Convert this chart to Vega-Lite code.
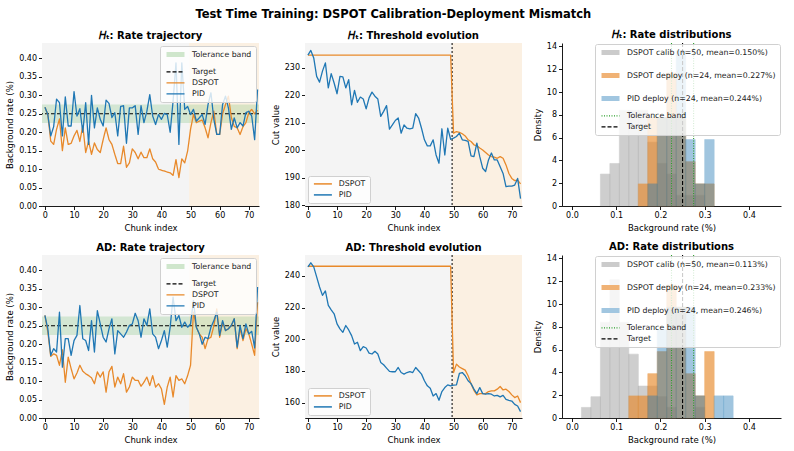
{
"$schema": "https://vega.github.io/schema/vega-lite/v6.json",
"padding": {"left": 5, "top": 8, "right": 5, "bottom": 4},
"title": {"text": "Test Time Training: DSPOT Calibration-Deployment Mismatch", "fontSize": 11.5, "fontWeight": "bold", "anchor": "middle", "offset": 10},
"datasets": {
"phases": [{"phase": "Calibration", "start": -1, "end": 49.5}, {"phase": "Deployment", "start": 49.5, "end": 73.5}],
"phase_labels": [
{"panel": "ht_rate", "phase": "Calibration", "x": 24.5, "y": 0.421}, {"panel": "ht_rate", "phase": "Deployment", "x": 61.5, "y": 0.421},
{"panel": "ad_rate", "phase": "Calibration", "x": 24.5, "y": 0.421}, {"panel": "ad_rate", "phase": "Deployment", "x": 61.5, "y": 0.421},
{"panel": "ht_thr", "phase": "Calibration", "x": 24.5, "y": 232.4}, {"panel": "ht_thr", "phase": "Deployment", "x": 61.5, "y": 232.4},
{"panel": "ad_thr", "phase": "Calibration", "x": 24.5, "y": 246.8}, {"panel": "ad_thr", "phase": "Deployment", "x": 61.5, "y": 246.8}],
"band": [{"series": "Tolerance band", "lo": 0.225, "hi": 0.275}],
"target": [{"series": "Target", "v": 0.25}],
"split": [{"x": 49.5}],
"hist_lines": [{"series": "Tolerance band", "v": 0.225}, {"series": "Tolerance band", "v": 0.275}, {"series": "Target", "v": 0.25}],
"ht_rate": [
{"c":0,"DSPOT":0.268,"PID":0.268},{"c":1,"DSPOT":0.248,"PID":0.248},{"c":2,"DSPOT":0.176,"PID":0.19},{"c":3,"DSPOT":0.167,"PID":0.215},{"c":4,"DSPOT":0.208,"PID":0.29},
{"c":5,"DSPOT":0.236,"PID":0.28},{"c":6,"DSPOT":0.15,"PID":0.19},{"c":7,"DSPOT":0.212,"PID":0.296},{"c":8,"DSPOT":0.167,"PID":0.217},{"c":9,"DSPOT":0.17,"PID":0.217},
{"c":10,"DSPOT":0.19,"PID":0.31},{"c":11,"DSPOT":0.205,"PID":0.244},{"c":12,"DSPOT":0.175,"PID":0.264},{"c":13,"DSPOT":0.218,"PID":0.2},{"c":14,"DSPOT":0.145,"PID":0.28},
{"c":15,"DSPOT":0.176,"PID":0.167},{"c":16,"DSPOT":0.14,"PID":0.3},{"c":17,"DSPOT":0.171,"PID":0.212},{"c":18,"DSPOT":0.153,"PID":0.266},{"c":19,"DSPOT":0.145,"PID":0.235},
{"c":20,"DSPOT":0.18,"PID":0.217},{"c":21,"DSPOT":0.212,"PID":0.287},{"c":22,"DSPOT":0.18,"PID":0.278},{"c":23,"DSPOT":0.167,"PID":0.24},{"c":24,"DSPOT":0.14,"PID":0.253},
{"c":25,"DSPOT":0.115,"PID":0.19},{"c":26,"DSPOT":0.115,"PID":0.27},{"c":27,"DSPOT":0.162,"PID":0.272},{"c":28,"DSPOT":0.105,"PID":0.17},{"c":29,"DSPOT":0.117,"PID":0.266},
{"c":30,"DSPOT":0.155,"PID":0.266},{"c":31,"DSPOT":0.145,"PID":0.272},{"c":32,"DSPOT":0.128,"PID":0.194},{"c":33,"DSPOT":0.146,"PID":0.272},{"c":34,"DSPOT":0.131,"PID":0.226},
{"c":35,"DSPOT":0.131,"PID":0.257},{"c":36,"DSPOT":0.155,"PID":0.302},{"c":37,"DSPOT":0.128,"PID":0.244},{"c":38,"DSPOT":0.119,"PID":0.221},{"c":39,"DSPOT":0.1,"PID":0.248},
{"c":40,"DSPOT":0.097,"PID":0.235},{"c":41,"DSPOT":0.095,"PID":0.251},{"c":42,"DSPOT":0.092,"PID":0.248},{"c":43,"DSPOT":0.09,"PID":0.2},{"c":44,"DSPOT":0.083,"PID":0.284},
{"c":45,"DSPOT":0.126,"PID":0.388},{"c":46,"DSPOT":0.077,"PID":0.167},{"c":47,"DSPOT":0.128,"PID":0.388},{"c":48,"DSPOT":0.117,"PID":0.262},{"c":49,"DSPOT":0.149,"PID":0.27},
{"c":50,"DSPOT":0.208,"PID":0.248},{"c":51,"DSPOT":0.248,"PID":0.262},{"c":52,"DSPOT":0.226,"PID":0.23},{"c":53,"DSPOT":0.23,"PID":0.239},{"c":54,"DSPOT":0.233,"PID":0.248},
{"c":55,"DSPOT":0.212,"PID":0.221},{"c":56,"DSPOT":0.185,"PID":0.275},{"c":57,"DSPOT":0.226,"PID":0.307},{"c":58,"DSPOT":0.257,"PID":0.235},{"c":59,"DSPOT":0.194,"PID":0.194},
{"c":60,"DSPOT":0.194,"PID":0.194},{"c":61,"DSPOT":0.25,"PID":0.275},{"c":62,"DSPOT":0.275,"PID":0.298},{"c":63,"DSPOT":0.298,"PID":0.266},{"c":64,"DSPOT":0.24,"PID":0.208},
{"c":65,"DSPOT":0.216,"PID":0.239},{"c":66,"DSPOT":0.212,"PID":0.212},{"c":67,"DSPOT":0.194,"PID":0.226},{"c":68,"DSPOT":0.215,"PID":0.217},{"c":69,"DSPOT":0.226,"PID":0.253},
{"c":70,"DSPOT":0.253,"PID":0.257},{"c":71,"DSPOT":0.262,"PID":0.244},{"c":72,"DSPOT":0.25,"PID":0.18},{"c":73,"DSPOT":0.26,"PID":0.316}],
"ad_rate": [
{"c":0,"DSPOT":0.278,"PID":0.278},{"c":1,"DSPOT":0.233,"PID":0.242},{"c":2,"DSPOT":0.167,"PID":0.17},{"c":3,"DSPOT":0.174,"PID":0.188},{"c":4,"DSPOT":0.17,"PID":0.179},
{"c":5,"DSPOT":0.143,"PID":0.287},{"c":6,"DSPOT":0.185,"PID":0.138},{"c":7,"DSPOT":0.097,"PID":0.215},{"c":8,"DSPOT":0.165,"PID":0.215},{"c":9,"DSPOT":0.134,"PID":0.17},
{"c":10,"DSPOT":0.106,"PID":0.21},{"c":11,"DSPOT":0.122,"PID":0.224},{"c":12,"DSPOT":0.143,"PID":0.305},{"c":13,"DSPOT":0.127,"PID":0.215},{"c":14,"DSPOT":0.12,"PID":0.21},
{"c":15,"DSPOT":0.115,"PID":0.183},{"c":16,"DSPOT":0.109,"PID":0.264},{"c":17,"DSPOT":0.093,"PID":0.179},{"c":18,"DSPOT":0.125,"PID":0.291},{"c":19,"DSPOT":0.111,"PID":0.255},
{"c":20,"DSPOT":0.125,"PID":0.219},{"c":21,"DSPOT":0.07,"PID":0.206},{"c":22,"DSPOT":0.125,"PID":0.242},{"c":23,"DSPOT":0.14,"PID":0.269},{"c":24,"DSPOT":0.084,"PID":0.174},
{"c":25,"DSPOT":0.111,"PID":0.237},{"c":26,"DSPOT":0.093,"PID":0.228},{"c":27,"DSPOT":0.12,"PID":0.219},{"c":28,"DSPOT":0.07,"PID":0.233},{"c":29,"DSPOT":0.084,"PID":0.251},
{"c":30,"DSPOT":0.111,"PID":0.255},{"c":31,"DSPOT":0.102,"PID":0.284},{"c":32,"DSPOT":0.102,"PID":0.264},{"c":33,"DSPOT":0.086,"PID":0.219},{"c":34,"DSPOT":0.097,"PID":0.269},
{"c":35,"DSPOT":0.111,"PID":0.251},{"c":36,"DSPOT":0.088,"PID":0.296},{"c":37,"DSPOT":0.115,"PID":0.228},{"c":38,"DSPOT":0.084,"PID":0.219},{"c":39,"DSPOT":0.093,"PID":0.188},
{"c":40,"DSPOT":0.079,"PID":0.21},{"c":41,"DSPOT":0.037,"PID":0.237},{"c":42,"DSPOT":0.084,"PID":0.192},{"c":43,"DSPOT":0.111,"PID":0.246},{"c":44,"DSPOT":0.057,"PID":0.328},
{"c":45,"DSPOT":0.115,"PID":0.264},{"c":46,"DSPOT":0.102,"PID":0.278},{"c":47,"DSPOT":0.106,"PID":0.246},{"c":48,"DSPOT":0.093,"PID":0.26},{"c":49,"DSPOT":0.115,"PID":0.246},
{"c":50,"DSPOT":0.143,"PID":0.255},{"c":51,"DSPOT":0.287,"PID":0.319},{"c":52,"DSPOT":0.246,"PID":0.246},{"c":53,"DSPOT":0.228,"PID":0.228},{"c":54,"DSPOT":0.219,"PID":0.2},
{"c":55,"DSPOT":0.188,"PID":0.219},{"c":56,"DSPOT":0.215,"PID":0.215},{"c":57,"DSPOT":0.219,"PID":0.246},{"c":58,"DSPOT":0.25,"PID":0.264},{"c":59,"DSPOT":0.296,"PID":0.287},
{"c":60,"DSPOT":0.219,"PID":0.224},{"c":61,"DSPOT":0.26,"PID":0.264},{"c":62,"DSPOT":0.237,"PID":0.237},{"c":63,"DSPOT":0.242,"PID":0.242},{"c":64,"DSPOT":0.251,"PID":0.251},
{"c":65,"DSPOT":0.269,"PID":0.269},{"c":66,"DSPOT":0.188,"PID":0.192},{"c":67,"DSPOT":0.242,"PID":0.251},{"c":68,"DSPOT":0.21,"PID":0.215},{"c":69,"DSPOT":0.242,"PID":0.255},
{"c":70,"DSPOT":0.228,"PID":0.228},{"c":71,"DSPOT":0.2,"PID":0.235},{"c":72,"DSPOT":0.17,"PID":0.19},{"c":73,"DSPOT":0.314,"PID":0.355}],
"ht_thr": [
{"c":0,"DSPOT":234.5,"PID":234.5},{"c":1,"DSPOT":234.5,"PID":236.2},{"c":2,"DSPOT":234.5,"PID":233.5},{"c":3,"DSPOT":234.5,"PID":226.8},{"c":4,"DSPOT":234.5,"PID":224.7},
{"c":5,"DSPOT":234.5,"PID":228.7},{"c":6,"DSPOT":234.5,"PID":231.7},{"c":7,"DSPOT":234.5,"PID":222.6},{"c":8,"DSPOT":234.5,"PID":227.8},{"c":9,"DSPOT":234.5,"PID":224.4},
{"c":10,"DSPOT":234.5,"PID":220.5},{"c":11,"DSPOT":234.5,"PID":226.8},{"c":12,"DSPOT":234.5,"PID":226.6},{"c":13,"DSPOT":234.5,"PID":222.6},{"c":14,"DSPOT":234.5,"PID":225.6},
{"c":15,"DSPOT":234.5,"PID":216.5},{"c":16,"DSPOT":234.5,"PID":221.7},{"c":17,"DSPOT":234.5,"PID":217.4},{"c":18,"DSPOT":234.5,"PID":219.3},{"c":19,"DSPOT":234.5,"PID":218.6},
{"c":20,"DSPOT":234.5,"PID":215},{"c":21,"DSPOT":234.5,"PID":219},{"c":22,"DSPOT":234.5,"PID":221.1},{"c":23,"DSPOT":234.5,"PID":219.6},{"c":24,"DSPOT":234.5,"PID":218.6},
{"c":25,"DSPOT":234.5,"PID":212.3},{"c":26,"DSPOT":234.5,"PID":214.1},{"c":27,"DSPOT":234.5,"PID":216.2},{"c":28,"DSPOT":234.5,"PID":207.7},{"c":29,"DSPOT":234.5,"PID":209.2},
{"c":30,"DSPOT":234.5,"PID":210.8},{"c":31,"DSPOT":234.5,"PID":211.7},{"c":32,"DSPOT":234.5,"PID":206.2},{"c":33,"DSPOT":234.5,"PID":209.2},{"c":34,"DSPOT":234.5,"PID":208},
{"c":35,"DSPOT":234.5,"PID":207.8},{"c":36,"DSPOT":234.5,"PID":208},{"c":37,"DSPOT":234.5,"PID":213.3},{"c":38,"DSPOT":234.5,"PID":211.7},{"c":39,"DSPOT":234.5,"PID":208},
{"c":40,"DSPOT":234.5,"PID":203.8},{"c":41,"DSPOT":234.5,"PID":201.6},{"c":42,"DSPOT":234.5,"PID":201.6},{"c":43,"DSPOT":234.5,"PID":203.8},{"c":44,"DSPOT":234.5,"PID":198.3},
{"c":45,"DSPOT":234.5,"PID":195.3},{"c":46,"DSPOT":234.5,"PID":207.8},{"c":47,"DSPOT":234.5,"PID":198.3},{"c":48,"DSPOT":234.5,"PID":208},{"c":49,"DSPOT":234.5,"PID":204},
{"c":50,"DSPOT":206.2,"PID":204.4},{"c":51,"DSPOT":206.8,"PID":205},{"c":52,"DSPOT":206.5,"PID":206.2},{"c":53,"DSPOT":206,"PID":203.8},{"c":54,"DSPOT":205.2,"PID":203.6},
{"c":55,"DSPOT":203.8,"PID":203.2},{"c":56,"DSPOT":203.2,"PID":198},{"c":57,"DSPOT":202,"PID":197.7},{"c":58,"DSPOT":201.6,"PID":202.6},{"c":59,"DSPOT":200.8,"PID":197.7},
{"c":60,"DSPOT":200.1,"PID":193.5},{"c":61,"DSPOT":199.2,"PID":192.3},{"c":62,"DSPOT":198.3,"PID":196.5},{"c":63,"DSPOT":197.7,"PID":199},{"c":64,"DSPOT":197.5,"PID":196.5},
{"c":65,"DSPOT":197.1,"PID":196.5},{"c":66,"DSPOT":197.7,"PID":194},{"c":67,"DSPOT":197.1,"PID":191.6},{"c":68,"DSPOT":194.7,"PID":186.8},{"c":69,"DSPOT":191.6,"PID":187},
{"c":70,"DSPOT":189.8,"PID":187},{"c":71,"DSPOT":189,"PID":187.4},{"c":72,"DSPOT":189.2,"PID":189.8},{"c":73,"DSPOT":187.8,"PID":182.5}],
"ad_thr": [
{"c":0,"DSPOT":246.1,"PID":245.7},{"c":1,"DSPOT":246.1,"PID":248.3},{"c":2,"DSPOT":246.1,"PID":245.7},{"c":3,"DSPOT":246.1,"PID":239.4},{"c":4,"DSPOT":246.1,"PID":233},
{"c":5,"DSPOT":246.1,"PID":227.7},{"c":6,"DSPOT":246.1,"PID":230.5},{"c":7,"DSPOT":246.1,"PID":221.4},{"c":8,"DSPOT":246.1,"PID":218.6},{"c":9,"DSPOT":246.1,"PID":216.1},
{"c":10,"DSPOT":246.1,"PID":209.7},{"c":11,"DSPOT":246.1,"PID":206.6},{"c":12,"DSPOT":246.1,"PID":204.4},{"c":13,"DSPOT":246.1,"PID":208.7},{"c":14,"DSPOT":246.1,"PID":205.9},
{"c":15,"DSPOT":246.1,"PID":202.3},{"c":16,"DSPOT":246.1,"PID":197},{"c":17,"DSPOT":246.1,"PID":198.1},{"c":18,"DSPOT":246.1,"PID":192.8},{"c":19,"DSPOT":246.1,"PID":195.3},
{"c":20,"DSPOT":246.1,"PID":194.5},{"c":21,"DSPOT":246.1,"PID":191.3},{"c":22,"DSPOT":246.1,"PID":190.7},{"c":23,"DSPOT":246.1,"PID":192.4},{"c":24,"DSPOT":246.1,"PID":190.7},
{"c":25,"DSPOT":246.1,"PID":185.4},{"c":26,"DSPOT":246.1,"PID":183.9},{"c":27,"DSPOT":246.1,"PID":181.8},{"c":28,"DSPOT":246.1,"PID":179.7},{"c":29,"DSPOT":246.1,"PID":179.5},
{"c":30,"DSPOT":246.1,"PID":179.5},{"c":31,"DSPOT":246.1,"PID":182.2},{"c":32,"DSPOT":246.1,"PID":179},{"c":33,"DSPOT":246.1,"PID":178},{"c":34,"DSPOT":246.1,"PID":179},
{"c":35,"DSPOT":246.1,"PID":179.6},{"c":36,"DSPOT":246.1,"PID":179},{"c":37,"DSPOT":246.1,"PID":182.2},{"c":38,"DSPOT":246.1,"PID":180.1},{"c":39,"DSPOT":246.1,"PID":178},
{"c":40,"DSPOT":246.1,"PID":173.8},{"c":41,"DSPOT":246.1,"PID":170.6},{"c":42,"DSPOT":246.1,"PID":169.1},{"c":43,"DSPOT":246.1,"PID":164.2},{"c":44,"DSPOT":246.1,"PID":165.7},
{"c":45,"DSPOT":246.1,"PID":161.5},{"c":46,"DSPOT":246.1,"PID":167},{"c":47,"DSPOT":246.1,"PID":169.5},{"c":48,"DSPOT":246.1,"PID":171.2},{"c":49,"DSPOT":246.1,"PID":170.6},
{"c":50,"DSPOT":179,"PID":171},{"c":51,"DSPOT":184.3,"PID":171.2},{"c":52,"DSPOT":182.5,"PID":178.4},{"c":53,"DSPOT":181.5,"PID":179},{"c":54,"DSPOT":180.5,"PID":177},
{"c":55,"DSPOT":177,"PID":173.8},{"c":56,"DSPOT":172,"PID":172},{"c":57,"DSPOT":167.8,"PID":168.5},{"c":58,"DSPOT":164.9,"PID":165.7},{"c":59,"DSPOT":165.7,"PID":169.5},
{"c":60,"DSPOT":165.7,"PID":165.7},{"c":61,"DSPOT":165.7,"PID":165.3},{"c":62,"DSPOT":167,"PID":165.7},{"c":63,"DSPOT":167.4,"PID":165.3},{"c":64,"DSPOT":167.4,"PID":164.2},
{"c":65,"DSPOT":168.5,"PID":164.6},{"c":66,"DSPOT":170.2,"PID":163.6},{"c":67,"DSPOT":168,"PID":164.6},{"c":68,"DSPOT":168.5,"PID":162.1},{"c":69,"DSPOT":167,"PID":161.5},
{"c":70,"DSPOT":164.9,"PID":161},{"c":71,"DSPOT":163.2,"PID":158.9},{"c":72,"DSPOT":164.2,"PID":157.9},{"c":73,"DSPOT":160,"PID":154.3}],
"ht_hist": [
{"s":"DSPOT calib","b0":0.06429,"b1":0.08571,"d":2.8},{"s":"DSPOT calib","b0":0.08571,"b1":0.10714,"d":3.73},{"s":"DSPOT calib","b0":0.10714,"b1":0.12857,"d":8.4},
{"s":"DSPOT calib","b0":0.12857,"b1":0.15,"d":8.4},{"s":"DSPOT calib","b0":0.15,"b1":0.17143,"d":8.4},{"s":"DSPOT calib","b0":0.17143,"b1":0.19286,"d":5.6},
{"s":"DSPOT calib","b0":0.19286,"b1":0.21429,"d":3.73},{"s":"DSPOT calib","b0":0.21429,"b1":0.23571,"d":2.8},{"s":"DSPOT calib","b0":0.23571,"b1":0.25714,"d":0.93},
{"s":"DSPOT calib","b0":0.25714,"b1":0.27857,"d":0.93},{"s":"DSPOT calib","b0":0.27857,"b1":0.3,"d":0.93},
{"s":"DSPOT deploy","b0":0.15,"b1":0.17143,"d":1.94},{"s":"DSPOT deploy","b0":0.17143,"b1":0.19286,"d":7.78},{"s":"DSPOT deploy","b0":0.19286,"b1":0.21429,"d":7.78},
{"s":"DSPOT deploy","b0":0.21429,"b1":0.23571,"d":11.67},{"s":"DSPOT deploy","b0":0.23571,"b1":0.25714,"d":7.78},{"s":"DSPOT deploy","b0":0.25714,"b1":0.27857,"d":3.89},
{"s":"DSPOT deploy","b0":0.27857,"b1":0.3,"d":1.94},{"s":"DSPOT deploy","b0":0.3,"b1":0.32143,"d":1.94},
{"s":"PID deploy","b0":0.17143,"b1":0.19286,"d":1.94},{"s":"PID deploy","b0":0.19286,"b1":0.21429,"d":7.78},{"s":"PID deploy","b0":0.21429,"b1":0.23571,"d":7.78},
{"s":"PID deploy","b0":0.23571,"b1":0.25714,"d":13.61},{"s":"PID deploy","b0":0.25714,"b1":0.27857,"d":5.83},{"s":"PID deploy","b0":0.27857,"b1":0.3,"d":1.94},
{"s":"PID deploy","b0":0.3,"b1":0.32143,"d":5.83}],
"ad_hist": [
{"s":"DSPOT calib","b0":0.02143,"b1":0.04286,"d":0.93},{"s":"DSPOT calib","b0":0.04286,"b1":0.06429,"d":1.87},{"s":"DSPOT calib","b0":0.06429,"b1":0.08571,"d":8.4},
{"s":"DSPOT calib","b0":0.08571,"b1":0.10714,"d":12.13},{"s":"DSPOT calib","b0":0.10714,"b1":0.12857,"d":8.4},{"s":"DSPOT calib","b0":0.12857,"b1":0.15,"d":5.6},
{"s":"DSPOT calib","b0":0.15,"b1":0.17143,"d":2.8},{"s":"DSPOT calib","b0":0.17143,"b1":0.19286,"d":2.8},{"s":"DSPOT calib","b0":0.19286,"b1":0.21429,"d":1.87},
{"s":"DSPOT calib","b0":0.21429,"b1":0.23571,"d":0.93},{"s":"DSPOT calib","b0":0.27857,"b1":0.3,"d":0.93},
{"s":"DSPOT deploy","b0":0.12857,"b1":0.15,"d":1.94},{"s":"DSPOT deploy","b0":0.15,"b1":0.17143,"d":1.94},{"s":"DSPOT deploy","b0":0.17143,"b1":0.19286,"d":3.89},
{"s":"DSPOT deploy","b0":0.19286,"b1":0.21429,"d":5.83},{"s":"DSPOT deploy","b0":0.21429,"b1":0.23571,"d":11.67},{"s":"DSPOT deploy","b0":0.23571,"b1":0.25714,"d":9.72},
{"s":"DSPOT deploy","b0":0.25714,"b1":0.27857,"d":3.89},{"s":"DSPOT deploy","b0":0.27857,"b1":0.3,"d":1.94},{"s":"DSPOT deploy","b0":0.3,"b1":0.32143,"d":5.83},
{"s":"PID deploy","b0":0.17143,"b1":0.19286,"d":1.94},{"s":"PID deploy","b0":0.19286,"b1":0.21429,"d":7.78},{"s":"PID deploy","b0":0.21429,"b1":0.23571,"d":9.72},
{"s":"PID deploy","b0":0.23571,"b1":0.25714,"d":9.72},{"s":"PID deploy","b0":0.25714,"b1":0.27857,"d":9.72},{"s":"PID deploy","b0":0.27857,"b1":0.3,"d":1.94},
{"s":"PID deploy","b0":0.32143,"b1":0.34286,"d":1.94},{"s":"PID deploy","b0":0.34286,"b1":0.36429,"d":1.94}]
},
"spacing": 10,
"resolve": {"scale": {"x": "independent", "y": "independent", "color": "independent", "fill": "independent", "strokeWidth": "independent", "strokeDash": "independent"}, "legend": {"color": "independent", "strokeWidth": "independent", "strokeDash": "independent"}},
"vconcat": [
{"spacing": 11,
 "resolve": {"scale": {"x": "independent", "y": "independent", "color": "independent", "fill": "independent", "strokeWidth": "independent", "strokeDash": "independent"}, "legend": {"color": "independent", "strokeWidth": "independent", "strokeDash": "independent"}},
 "hconcat": [
 {"title": "𝐻ₜ: Rate trajectory", "width": 217, "height": 163,
  "layer": [
   {"data": {"name": "phases"}, "mark": {"type": "rect"},
    "encoding": {"x": {"field": "start", "type": "quantitative", "scale": {"domain": [-1, 73.5], "nice": false, "zero": false}, "title": "Chunk index", "axis": {"values": [0,10,20,30,40,50,60,70]}},
     "x2": {"field": "end"},
     "fill": {"field": "phase", "type": "nominal", "scale": {"domain": ["Calibration", "Deployment"], "range": ["#f4f4f4", "#fbf0e2"]}, "legend": null}}},
   {"data": {"name": "band"}, "mark": {"type": "rect", "color": "#2ca02c", "opacity": 0.16},
    "encoding": {"y": {"field": "lo", "type": "quantitative", "scale": {"domain": [0, 0.442], "nice": false}, "title": "Background rate (%)", "axis": {"values": [0,0.05,0.1,0.15,0.2,0.25,0.3,0.35,0.4], "format": ".2f"}},
     "y2": {"field": "hi"}}},
   {"data": {"name": "target"}, "mark": {"type": "rule", "strokeDash": [4, 2], "strokeWidth": 1.1, "color": "black"},
    "encoding": {"y": {"field": "v", "type": "quantitative", "scale": {"domain": [0, 0.442], "nice": false}, "title": "Background rate (%)", "axis": {"values": [0,0.05,0.1,0.15,0.2,0.25,0.3,0.35,0.4], "format": ".2f"}}}},
   {"data": {"name": "phase_labels"}, "transform": [{"filter": "datum.panel === 'ht_rate'"}], "mark": {"type": "text", "fontSize": 7, "baseline": "middle"},
    "encoding": {"x": {"field": "x", "type": "quantitative", "scale": {"domain": [-1, 73.5], "nice": false, "zero": false}, "title": "Chunk index", "axis": {"values": [0,10,20,30,40,50,60,70]}},
     "y": {"field": "y", "type": "quantitative", "scale": {"domain": [0, 0.442], "nice": false}, "title": "Background rate (%)", "axis": {"values": [0,0.05,0.1,0.15,0.2,0.25,0.3,0.35,0.4], "format": ".2f"}},
     "text": {"field": "phase"},
     "fill": {"field": "phase", "type": "nominal", "scale": {"domain": ["Calibration", "Deployment"], "range": ["#8a8a8a", "#d9822b"]}, "legend": null}}},
   {"data": {"name": "ht_rate"}, "transform": [{"fold": ["DSPOT", "PID"], "as": ["series", "rate"]}], "mark": {"type": "line", "strokeJoin": "round"},
    "encoding": {"x": {"field": "c", "type": "quantitative", "scale": {"domain": [-1, 73.5], "nice": false, "zero": false}, "title": "Chunk index", "axis": {"values": [0,10,20,30,40,50,60,70]}},
     "y": {"field": "rate", "type": "quantitative", "scale": {"domain": [0, 0.442], "nice": false}, "title": "Background rate (%)", "axis": {"values": [0,0.05,0.1,0.15,0.2,0.25,0.3,0.35,0.4], "format": ".2f"}},
     "color": {"field": "series", "type": "nominal", "scale": {"domain": ["Tolerance band", "Target", "DSPOT", "PID"], "range": ["#cfe6cc", "black", "#e8892a", "#1f77b4"]},
      "legend": {"orient": "top-right", "offset": 3, "title": null, "symbolType": "M-1,0H8", "symbolSize": 16, "labelOffset": 19, "symbolFillColor": "transparent", "symbolOpacity": 1}},
     "strokeWidth": {"field": "series", "type": "nominal", "scale": {"type": "ordinal", "domain": ["Tolerance band", "Target", "DSPOT", "PID"], "range": [5, 1.2, 1.3, 1.3]},
      "legend": {"orient": "top-right", "offset": 3, "title": null, "symbolType": "M-1,0H8", "symbolSize": 16, "labelOffset": 19, "symbolFillColor": "transparent", "symbolOpacity": 1}},
     "strokeDash": {"field": "series", "type": "nominal", "scale": {"domain": ["Tolerance band", "Target", "DSPOT", "PID"], "range": [[1, 0], [4, 2], [1, 0], [1, 0]]},
      "legend": {"orient": "top-right", "offset": 3, "title": null, "symbolType": "M-1,0H8", "symbolSize": 16, "labelOffset": 19, "symbolFillColor": "transparent", "symbolOpacity": 1}}}}
  ]},
 {"title": "𝐻ₜ: Threshold evolution", "width": 217, "height": 163,
  "layer": [
   {"data": {"name": "phases"}, "mark": {"type": "rect"},
    "encoding": {"x": {"field": "start", "type": "quantitative", "scale": {"domain": [-1, 73.5], "nice": false, "zero": false}, "title": "Chunk index", "axis": {"values": [0,10,20,30,40,50,60,70]}},
     "x2": {"field": "end"},
     "fill": {"field": "phase", "type": "nominal", "scale": {"domain": ["Calibration", "Deployment"], "range": ["#f4f4f4", "#fbf0e2"]}, "legend": null}}},
   {"data": {"name": "split"}, "mark": {"type": "rule", "strokeDash": [2, 2], "strokeWidth": 1, "color": "black"},
    "encoding": {"x": {"field": "x", "type": "quantitative", "scale": {"domain": [-1, 73.5], "nice": false, "zero": false}, "title": "Chunk index", "axis": {"values": [0,10,20,30,40,50,60,70]}}}},
   {"data": {"name": "phase_labels"}, "transform": [{"filter": "datum.panel === 'ht_thr'"}], "mark": {"type": "text", "fontSize": 7, "baseline": "middle"},
    "encoding": {"x": {"field": "x", "type": "quantitative", "scale": {"domain": [-1, 73.5], "nice": false, "zero": false}, "title": "Chunk index", "axis": {"values": [0,10,20,30,40,50,60,70]}},
     "y": {"field": "y", "type": "quantitative", "scale": {"domain": [179.8, 238.9], "nice": false, "zero": false}, "title": "Cut value", "axis": {"values": [180,190,200,210,220,230]}},
     "text": {"field": "phase"},
     "fill": {"field": "phase", "type": "nominal", "scale": {"domain": ["Calibration", "Deployment"], "range": ["#8a8a8a", "#d9822b"]}, "legend": null}}},
   {"data": {"name": "ht_thr"}, "transform": [{"fold": ["DSPOT", "PID"], "as": ["series", "cut"]}], "mark": {"type": "line", "strokeWidth": 1.3, "strokeJoin": "round"},
    "encoding": {"x": {"field": "c", "type": "quantitative", "scale": {"domain": [-1, 73.5], "nice": false, "zero": false}, "title": "Chunk index", "axis": {"values": [0,10,20,30,40,50,60,70]}},
     "y": {"field": "cut", "type": "quantitative", "scale": {"domain": [179.8, 238.9], "nice": false, "zero": false}, "title": "Cut value", "axis": {"values": [180,190,200,210,220,230]}},
     "color": {"field": "series", "type": "nominal", "scale": {"domain": ["DSPOT", "PID"], "range": ["#e8892a", "#1f77b4"]},
      "legend": {"orient": "bottom-left", "offset": 3, "title": null, "symbolType": "M-1,0H8", "symbolSize": 16, "labelOffset": 19, "symbolStrokeWidth": 1.5}}}}
  ]},
 {"title": "𝐻ₜ: Rate distributions", "width": 219, "height": 163,
  "layer": [
   {"data": {"name": "ht_hist"}, "transform": [{"filter": "datum.s === 'DSPOT calib'"}], "mark": {"type": "rect", "color": "#8c8c8c", "stroke": "#8c8c8c", "opacity": 0.42, "strokeWidth": 0.6},
    "encoding": {"x": {"field": "b0", "type": "quantitative", "scale": {"domain": [-0.0225, 0.4725], "nice": false, "zero": false}, "title": "Background rate (%)", "axis": {"values": [0,0.1,0.2,0.3,0.4], "format": ".1f"}},
     "x2": {"field": "b1"},
     "y": {"field": "d", "type": "quantitative", "scale": {"domain": [0, 14.3], "nice": false}, "title": "Density", "axis": {"values": [0,2,4,6,8,10,12,14]}},
     "y2": {"datum": 0}}},
   {"data": {"name": "ht_hist"}, "transform": [{"filter": "datum.s === 'DSPOT deploy'"}], "mark": {"type": "rect", "color": "#e8892a", "stroke": "#e8892a", "opacity": 0.65, "strokeWidth": 0.6},
    "encoding": {"x": {"field": "b0", "type": "quantitative", "scale": {"domain": [-0.0225, 0.4725], "nice": false, "zero": false}, "title": "Background rate (%)", "axis": {"values": [0,0.1,0.2,0.3,0.4], "format": ".1f"}},
     "x2": {"field": "b1"},
     "y": {"field": "d", "type": "quantitative", "scale": {"domain": [0, 14.3], "nice": false}, "title": "Density", "axis": {"values": [0,2,4,6,8,10,12,14]}},
     "y2": {"datum": 0}}},
   {"data": {"name": "ht_hist"}, "transform": [{"filter": "datum.s === 'PID deploy'"}], "mark": {"type": "rect", "color": "#1f77b4", "stroke": "#1f77b4", "opacity": 0.42, "strokeWidth": 0.6},
    "encoding": {"x": {"field": "b0", "type": "quantitative", "scale": {"domain": [-0.0225, 0.4725], "nice": false, "zero": false}, "title": "Background rate (%)", "axis": {"values": [0,0.1,0.2,0.3,0.4], "format": ".1f"}},
     "x2": {"field": "b1"},
     "y": {"field": "d", "type": "quantitative", "scale": {"domain": [0, 14.3], "nice": false}, "title": "Density", "axis": {"values": [0,2,4,6,8,10,12,14]}},
     "y2": {"datum": 0}}},
   {"data": {"name": "hist_lines"}, "mark": {"type": "rule", "strokeJoin": "round"},
    "encoding": {"x": {"field": "v", "type": "quantitative", "scale": {"domain": [-0.0225, 0.4725], "nice": false, "zero": false}, "title": "Background rate (%)", "axis": {"values": [0,0.1,0.2,0.3,0.4], "format": ".1f"}},
     "color": {"field": "series", "type": "nominal", "scale": {"domain": ["DSPOT calib", "DSPOT deploy", "PID deploy", "Tolerance band", "Target"], "range": ["#cbcbcb", "#f0b275", "#a1c6e0", "#2ca02c", "black"]},
      "legend": {"orient": "top-right", "offset": 1, "title": null, "symbolType": "M-1,0H8", "symbolSize": 16, "labelOffset": 19, "symbolFillColor": "transparent", "symbolOpacity": 1,
       "labelExpr": "{'DSPOT calib': 'DSPOT calib (n=50, mean=0.150%)', 'DSPOT deploy': 'DSPOT deploy (n=24, mean=0.227%)', 'PID deploy': 'PID deploy (n=24, mean=0.244%)', 'Tolerance band': 'Tolerance band', 'Target': 'Target'}[datum.label]"}},
     "strokeWidth": {"field": "series", "type": "nominal", "scale": {"type": "ordinal", "domain": ["DSPOT calib", "DSPOT deploy", "PID deploy", "Tolerance band", "Target"], "range": [5, 5, 5, 1.1, 1.1]},
      "legend": {"orient": "top-right", "offset": 1, "title": null, "symbolType": "M-1,0H8", "symbolSize": 16, "labelOffset": 19, "symbolFillColor": "transparent", "symbolOpacity": 1,
       "labelExpr": "{'DSPOT calib': 'DSPOT calib (n=50, mean=0.150%)', 'DSPOT deploy': 'DSPOT deploy (n=24, mean=0.227%)', 'PID deploy': 'PID deploy (n=24, mean=0.244%)', 'Tolerance band': 'Tolerance band', 'Target': 'Target'}[datum.label]"}},
     "strokeDash": {"field": "series", "type": "nominal", "scale": {"domain": ["DSPOT calib", "DSPOT deploy", "PID deploy", "Tolerance band", "Target"], "range": [[1, 0], [1, 0], [1, 0], [1, 1.5], [4, 2]]},
      "legend": {"orient": "top-right", "offset": 1, "title": null, "symbolType": "M-1,0H8", "symbolSize": 16, "labelOffset": 19, "symbolFillColor": "transparent", "symbolOpacity": 1,
       "labelExpr": "{'DSPOT calib': 'DSPOT calib (n=50, mean=0.150%)', 'DSPOT deploy': 'DSPOT deploy (n=24, mean=0.227%)', 'PID deploy': 'PID deploy (n=24, mean=0.244%)', 'Tolerance band': 'Tolerance band', 'Target': 'Target'}[datum.label]"}}}}
  ]}
 ]},
{"spacing": 11,
 "resolve": {"scale": {"x": "independent", "y": "independent", "color": "independent", "fill": "independent", "strokeWidth": "independent", "strokeDash": "independent"}, "legend": {"color": "independent", "strokeWidth": "independent", "strokeDash": "independent"}},
 "hconcat": [
 {"title": "AD: Rate trajectory", "width": 217, "height": 163,
  "layer": [
   {"data": {"name": "phases"}, "mark": {"type": "rect"},
    "encoding": {"x": {"field": "start", "type": "quantitative", "scale": {"domain": [-1, 73.5], "nice": false, "zero": false}, "title": "Chunk index", "axis": {"values": [0,10,20,30,40,50,60,70]}},
     "x2": {"field": "end"},
     "fill": {"field": "phase", "type": "nominal", "scale": {"domain": ["Calibration", "Deployment"], "range": ["#f4f4f4", "#fbf0e2"]}, "legend": null}}},
   {"data": {"name": "band"}, "mark": {"type": "rect", "color": "#2ca02c", "opacity": 0.16},
    "encoding": {"y": {"field": "lo", "type": "quantitative", "scale": {"domain": [0, 0.442], "nice": false}, "title": "Background rate (%)", "axis": {"values": [0,0.05,0.1,0.15,0.2,0.25,0.3,0.35,0.4], "format": ".2f"}},
     "y2": {"field": "hi"}}},
   {"data": {"name": "target"}, "mark": {"type": "rule", "strokeDash": [4, 2], "strokeWidth": 1.1, "color": "black"},
    "encoding": {"y": {"field": "v", "type": "quantitative", "scale": {"domain": [0, 0.442], "nice": false}, "title": "Background rate (%)", "axis": {"values": [0,0.05,0.1,0.15,0.2,0.25,0.3,0.35,0.4], "format": ".2f"}}}},
   {"data": {"name": "phase_labels"}, "transform": [{"filter": "datum.panel === 'ad_rate'"}], "mark": {"type": "text", "fontSize": 7, "baseline": "middle"},
    "encoding": {"x": {"field": "x", "type": "quantitative", "scale": {"domain": [-1, 73.5], "nice": false, "zero": false}, "title": "Chunk index", "axis": {"values": [0,10,20,30,40,50,60,70]}},
     "y": {"field": "y", "type": "quantitative", "scale": {"domain": [0, 0.442], "nice": false}, "title": "Background rate (%)", "axis": {"values": [0,0.05,0.1,0.15,0.2,0.25,0.3,0.35,0.4], "format": ".2f"}},
     "text": {"field": "phase"},
     "fill": {"field": "phase", "type": "nominal", "scale": {"domain": ["Calibration", "Deployment"], "range": ["#8a8a8a", "#d9822b"]}, "legend": null}}},
   {"data": {"name": "ad_rate"}, "transform": [{"fold": ["DSPOT", "PID"], "as": ["series", "rate"]}], "mark": {"type": "line", "strokeJoin": "round"},
    "encoding": {"x": {"field": "c", "type": "quantitative", "scale": {"domain": [-1, 73.5], "nice": false, "zero": false}, "title": "Chunk index", "axis": {"values": [0,10,20,30,40,50,60,70]}},
     "y": {"field": "rate", "type": "quantitative", "scale": {"domain": [0, 0.442], "nice": false}, "title": "Background rate (%)", "axis": {"values": [0,0.05,0.1,0.15,0.2,0.25,0.3,0.35,0.4], "format": ".2f"}},
     "color": {"field": "series", "type": "nominal", "scale": {"domain": ["Tolerance band", "Target", "DSPOT", "PID"], "range": ["#cfe6cc", "black", "#e8892a", "#1f77b4"]},
      "legend": {"orient": "top-right", "offset": 3, "title": null, "symbolType": "M-1,0H8", "symbolSize": 16, "labelOffset": 19, "symbolFillColor": "transparent", "symbolOpacity": 1}},
     "strokeWidth": {"field": "series", "type": "nominal", "scale": {"type": "ordinal", "domain": ["Tolerance band", "Target", "DSPOT", "PID"], "range": [5, 1.2, 1.3, 1.3]},
      "legend": {"orient": "top-right", "offset": 3, "title": null, "symbolType": "M-1,0H8", "symbolSize": 16, "labelOffset": 19, "symbolFillColor": "transparent", "symbolOpacity": 1}},
     "strokeDash": {"field": "series", "type": "nominal", "scale": {"domain": ["Tolerance band", "Target", "DSPOT", "PID"], "range": [[1, 0], [4, 2], [1, 0], [1, 0]]},
      "legend": {"orient": "top-right", "offset": 3, "title": null, "symbolType": "M-1,0H8", "symbolSize": 16, "labelOffset": 19, "symbolFillColor": "transparent", "symbolOpacity": 1}}}}
  ]},
 {"title": "AD: Threshold evolution", "width": 217, "height": 163,
  "layer": [
   {"data": {"name": "phases"}, "mark": {"type": "rect"},
    "encoding": {"x": {"field": "start", "type": "quantitative", "scale": {"domain": [-1, 73.5], "nice": false, "zero": false}, "title": "Chunk index", "axis": {"values": [0,10,20,30,40,50,60,70]}},
     "x2": {"field": "end"},
     "fill": {"field": "phase", "type": "nominal", "scale": {"domain": ["Calibration", "Deployment"], "range": ["#f4f4f4", "#fbf0e2"]}, "legend": null}}},
   {"data": {"name": "split"}, "mark": {"type": "rule", "strokeDash": [2, 2], "strokeWidth": 1, "color": "black"},
    "encoding": {"x": {"field": "x", "type": "quantitative", "scale": {"domain": [-1, 73.5], "nice": false, "zero": false}, "title": "Chunk index", "axis": {"values": [0,10,20,30,40,50,60,70]}}}},
   {"data": {"name": "phase_labels"}, "transform": [{"filter": "datum.panel === 'ad_thr'"}], "mark": {"type": "text", "fontSize": 7, "baseline": "middle"},
    "encoding": {"x": {"field": "x", "type": "quantitative", "scale": {"domain": [-1, 73.5], "nice": false, "zero": false}, "title": "Chunk index", "axis": {"values": [0,10,20,30,40,50,60,70]}},
     "y": {"field": "y", "type": "quantitative", "scale": {"domain": [150.3, 253.2], "nice": false, "zero": false}, "title": "Cut value", "axis": {"values": [160,180,200,220,240]}},
     "text": {"field": "phase"},
     "fill": {"field": "phase", "type": "nominal", "scale": {"domain": ["Calibration", "Deployment"], "range": ["#8a8a8a", "#d9822b"]}, "legend": null}}},
   {"data": {"name": "ad_thr"}, "transform": [{"fold": ["DSPOT", "PID"], "as": ["series", "cut"]}], "mark": {"type": "line", "strokeWidth": 1.3, "strokeJoin": "round"},
    "encoding": {"x": {"field": "c", "type": "quantitative", "scale": {"domain": [-1, 73.5], "nice": false, "zero": false}, "title": "Chunk index", "axis": {"values": [0,10,20,30,40,50,60,70]}},
     "y": {"field": "cut", "type": "quantitative", "scale": {"domain": [150.3, 253.2], "nice": false, "zero": false}, "title": "Cut value", "axis": {"values": [160,180,200,220,240]}},
     "color": {"field": "series", "type": "nominal", "scale": {"domain": ["DSPOT", "PID"], "range": ["#e8892a", "#1f77b4"]},
      "legend": {"orient": "bottom-left", "offset": 3, "title": null, "symbolType": "M-1,0H8", "symbolSize": 16, "labelOffset": 19, "symbolStrokeWidth": 1.5}}}}
  ]},
 {"title": "AD: Rate distributions", "width": 219, "height": 163,
  "layer": [
   {"data": {"name": "ad_hist"}, "transform": [{"filter": "datum.s === 'DSPOT calib'"}], "mark": {"type": "rect", "color": "#8c8c8c", "stroke": "#8c8c8c", "opacity": 0.42, "strokeWidth": 0.6},
    "encoding": {"x": {"field": "b0", "type": "quantitative", "scale": {"domain": [-0.0225, 0.4725], "nice": false, "zero": false}, "title": "Background rate (%)", "axis": {"values": [0,0.1,0.2,0.3,0.4], "format": ".1f"}},
     "x2": {"field": "b1"},
     "y": {"field": "d", "type": "quantitative", "scale": {"domain": [0, 14.3], "nice": false}, "title": "Density", "axis": {"values": [0,2,4,6,8,10,12,14]}},
     "y2": {"datum": 0}}},
   {"data": {"name": "ad_hist"}, "transform": [{"filter": "datum.s === 'DSPOT deploy'"}], "mark": {"type": "rect", "color": "#e8892a", "stroke": "#e8892a", "opacity": 0.65, "strokeWidth": 0.6},
    "encoding": {"x": {"field": "b0", "type": "quantitative", "scale": {"domain": [-0.0225, 0.4725], "nice": false, "zero": false}, "title": "Background rate (%)", "axis": {"values": [0,0.1,0.2,0.3,0.4], "format": ".1f"}},
     "x2": {"field": "b1"},
     "y": {"field": "d", "type": "quantitative", "scale": {"domain": [0, 14.3], "nice": false}, "title": "Density", "axis": {"values": [0,2,4,6,8,10,12,14]}},
     "y2": {"datum": 0}}},
   {"data": {"name": "ad_hist"}, "transform": [{"filter": "datum.s === 'PID deploy'"}], "mark": {"type": "rect", "color": "#1f77b4", "stroke": "#1f77b4", "opacity": 0.42, "strokeWidth": 0.6},
    "encoding": {"x": {"field": "b0", "type": "quantitative", "scale": {"domain": [-0.0225, 0.4725], "nice": false, "zero": false}, "title": "Background rate (%)", "axis": {"values": [0,0.1,0.2,0.3,0.4], "format": ".1f"}},
     "x2": {"field": "b1"},
     "y": {"field": "d", "type": "quantitative", "scale": {"domain": [0, 14.3], "nice": false}, "title": "Density", "axis": {"values": [0,2,4,6,8,10,12,14]}},
     "y2": {"datum": 0}}},
   {"data": {"name": "hist_lines"}, "mark": {"type": "rule", "strokeJoin": "round"},
    "encoding": {"x": {"field": "v", "type": "quantitative", "scale": {"domain": [-0.0225, 0.4725], "nice": false, "zero": false}, "title": "Background rate (%)", "axis": {"values": [0,0.1,0.2,0.3,0.4], "format": ".1f"}},
     "color": {"field": "series", "type": "nominal", "scale": {"domain": ["DSPOT calib", "DSPOT deploy", "PID deploy", "Tolerance band", "Target"], "range": ["#cbcbcb", "#f0b275", "#a1c6e0", "#2ca02c", "black"]},
      "legend": {"orient": "top-right", "offset": 1, "title": null, "symbolType": "M-1,0H8", "symbolSize": 16, "labelOffset": 19, "symbolFillColor": "transparent", "symbolOpacity": 1,
       "labelExpr": "{'DSPOT calib': 'DSPOT calib (n=50, mean=0.113%)', 'DSPOT deploy': 'DSPOT deploy (n=24, mean=0.233%)', 'PID deploy': 'PID deploy (n=24, mean=0.246%)', 'Tolerance band': 'Tolerance band', 'Target': 'Target'}[datum.label]"}},
     "strokeWidth": {"field": "series", "type": "nominal", "scale": {"type": "ordinal", "domain": ["DSPOT calib", "DSPOT deploy", "PID deploy", "Tolerance band", "Target"], "range": [5, 5, 5, 1.1, 1.1]},
      "legend": {"orient": "top-right", "offset": 1, "title": null, "symbolType": "M-1,0H8", "symbolSize": 16, "labelOffset": 19, "symbolFillColor": "transparent", "symbolOpacity": 1,
       "labelExpr": "{'DSPOT calib': 'DSPOT calib (n=50, mean=0.113%)', 'DSPOT deploy': 'DSPOT deploy (n=24, mean=0.233%)', 'PID deploy': 'PID deploy (n=24, mean=0.246%)', 'Tolerance band': 'Tolerance band', 'Target': 'Target'}[datum.label]"}},
     "strokeDash": {"field": "series", "type": "nominal", "scale": {"domain": ["DSPOT calib", "DSPOT deploy", "PID deploy", "Tolerance band", "Target"], "range": [[1, 0], [1, 0], [1, 0], [1, 1.5], [4, 2]]},
      "legend": {"orient": "top-right", "offset": 1, "title": null, "symbolType": "M-1,0H8", "symbolSize": 16, "labelOffset": 19, "symbolFillColor": "transparent", "symbolOpacity": 1,
       "labelExpr": "{'DSPOT calib': 'DSPOT calib (n=50, mean=0.113%)', 'DSPOT deploy': 'DSPOT deploy (n=24, mean=0.233%)', 'PID deploy': 'PID deploy (n=24, mean=0.246%)', 'Tolerance band': 'Tolerance band', 'Target': 'Target'}[datum.label]"}}}}
  ]}
 ]}
],
"config": {
 "font": "DejaVu Sans",
 "view": {"stroke": null},
 "axis": {"domainColor": "black", "domainWidth": 0.9, "tickColor": "black", "tickWidth": 0.9, "tickSize": 3.5, "labelFontSize": 8, "titleFontSize": 8.5, "titleFontWeight": "normal", "grid": false, "labelColor": "black", "titleColor": "black", "labelPadding": 2, "titlePadding": 4, "labelFont": "DejaVu Sans", "titleFont": "DejaVu Sans", "labelFlush": false},
 "title": {"fontSize": 10, "fontWeight": "bold", "offset": 2, "font": "DejaVu Sans", "color": "black"},
 "legend": {"labelFontSize": 7.8, "labelFont": "DejaVu Sans", "labelColor": "#222", "padding": 4, "rowPadding": 2, "fillColor": "rgba(255,255,255,0.8)", "strokeColor": "#d0d0d0", "cornerRadius": 2, "labelLimit": 300}
}
}
